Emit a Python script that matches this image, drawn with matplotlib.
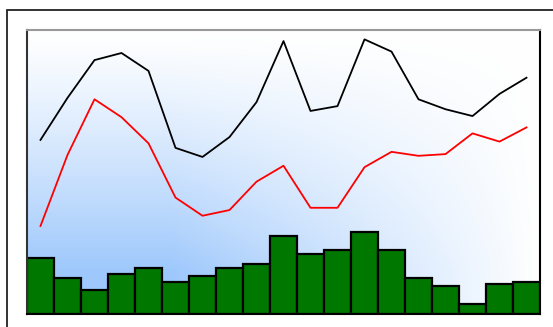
import numpy as np
import matplotlib
matplotlib.use("Agg")
import matplotlib.pyplot as plt
from matplotlib.patches import Rectangle

# Data (values on a 0-100 scale)
black_vals = [61.3, 76.1, 89.4, 91.9, 85.6, 58.5, 55.3, 62.3, 74.6, 96.1,
              71.5, 73.2, 96.7, 92.4, 75.6, 72.1, 69.7, 77.5, 83.2]
red_vals = [31.0, 56.0, 75.6, 69.3, 60.1, 41.0, 34.6, 36.6, 46.6, 52.2,
            37.4, 37.4, 51.7, 57.1, 55.7, 56.3, 63.6, 60.7, 65.7]
bar_vals = [19.7, 12.8, 8.5, 14.1, 16.2, 11.3, 13.4, 16.2, 17.6, 27.5,
            21.1, 22.5, 29.0, 22.5, 12.8, 9.9, 3.5, 10.6, 11.3]

W, H = 553, 327
fig = plt.figure(figsize=(W / 100, H / 100), dpi=100)

# figure border (partially clipped)
fig.patches.append(Rectangle((7 / W, -0.1), 1.2, (H - 10) / H + 0.1,
                             transform=fig.transFigure, fill=False,
                             edgecolor="#222222", linewidth=1.3))

ax = fig.add_axes([27 / W, 13 / H, 513 / W, 284 / H])
n = len(bar_vals)
x = np.arange(n)

# gradient background
gx = np.linspace(0, 1, 300)
gy = np.linspace(0, 1, 200)
GX, GY = np.meshgrid(gx, gy)
fy = np.clip((1 - GY) / 0.85, 0, 1) ** 1.2
fx = np.clip(1 - (GX - 0.28) / 0.72, 0, 1)
fx = np.where(GX < 0.28, 1.0, fx) ** 1.0
f = fy * fx
blue = np.array([158, 200, 252]) / 255.0
white = np.array([1.0, 1.0, 1.0])
img = white[None, None, :] * (1 - f[..., None]) + blue[None, None, :] * f[..., None]
ax.imshow(img, extent=[0, 1, 0, 1], transform=ax.transAxes, origin="lower",
          aspect="auto", zorder=0, interpolation="bilinear")

ax.bar(x, bar_vals, width=1.0, color="#007800", edgecolor="black",
       linewidth=1.6, zorder=2)
ax.plot(x, red_vals, color="#ff0000", linewidth=1.3, zorder=3)
ax.plot(x, black_vals, color="black", linewidth=1.3, zorder=4)

ax.set_xlim(-0.5, n - 0.5)
ax.set_ylim(0, 100)
ax.set_xticks([])
ax.set_yticks([])
ax.spines["top"].set_color("#999999")
ax.spines["left"].set_color("#333333")
ax.spines["right"].set_color("black")
ax.spines["bottom"].set_color("black")
for s in ax.spines.values():
    s.set_linewidth(1.5)

fig.savefig("out.png", dpi=100)
